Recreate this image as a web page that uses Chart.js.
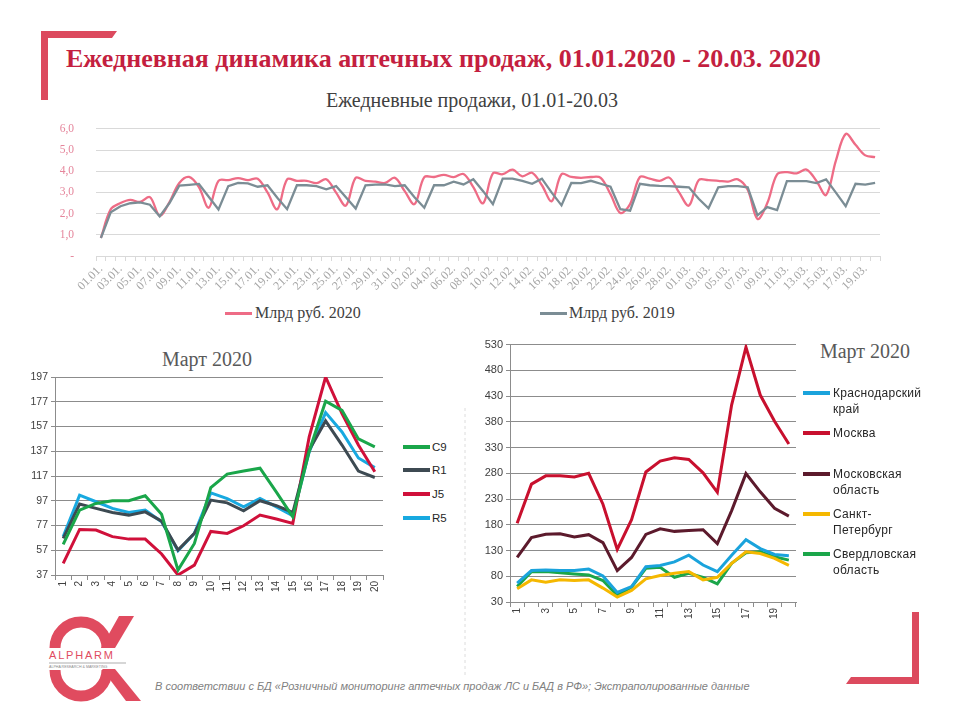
<!DOCTYPE html>
<html><head><meta charset="utf-8">
<script src="https://cdn.jsdelivr.net/npm/chart.js@4.4.1/dist/chart.umd.min.js"></script>
<style>
body{margin:0;width:960px;height:720px;background:#fff;position:relative;overflow:hidden;font-family:'Liberation Sans',Arial,sans-serif}
.abs{position:absolute;white-space:nowrap}
canvas{position:absolute}
.title{left:66px;top:46px;font:bold 26px 'Liberation Serif',serif;color:#c41f40;line-height:26px}
.sub{left:272px;width:400px;text-align:center;top:90px;font:20px 'Liberation Serif',serif;color:#404040;line-height:20px}
.leg16{font:16px 'Liberation Serif',serif;color:#404040;line-height:16px}
.mtitle{font:20px 'Liberation Serif',serif;color:#595959;line-height:20px}
.lline{position:absolute;height:4px}
.ltxt{position:absolute;font:11.5px 'Liberation Sans',sans-serif;color:#262626;line-height:12px}
.rtxt{position:absolute;font:12px 'Liberation Sans',sans-serif;color:#262626;line-height:16px;letter-spacing:0.3px}
.foot{left:155px;top:680px;font:italic 11px 'Liberation Sans',sans-serif;color:#7f7f7f;line-height:12px}
</style></head><body>

<svg class="abs" style="left:0;top:0" width="960" height="720">
  <polygon points="41,31 117,31 112,38 48,38 48,100 41,100" fill="#dc4a5e"/>
  <polygon points="912,612 919,612 919,684 846,684 851,677 912,677" fill="#dc4a5e"/>
  <line x1="465" y1="408" x2="465" y2="675" stroke="#dcdcdc" stroke-width="1" stroke-dasharray="3,3"/>
  <path d="M55,648 A26,26 0 0 1 107,648" stroke="#e04b5f" stroke-width="11" fill="none"/>
  <polygon points="119,616 134,616 115,648 101,648" fill="#e04b5f"/>
  <path d="M55,670 A26,26 0 0 0 107,670" stroke="#e04b5f" stroke-width="11" fill="none"/>
  <polygon points="102,669 115,669 141,701 126,701" fill="#e04b5f"/>
  <text x="49" y="659" font-family="Liberation Sans" font-size="11" letter-spacing="1.8" fill="#e04b5f">ALPHARM</text>
  <line x1="49" y1="663" x2="126" y2="663" stroke="#c8c8c8" stroke-width="1.5"/>
  <text x="49" y="668" font-family="Liberation Sans" font-size="3.6" fill="#8a8a8a">ALPHA RESEARCH &amp; MARKETING</text>
</svg>

<div class="abs title">Ежедневная динамика аптечных продаж, 01.01.2020 - 20.03. 2020</div>
<div class="abs sub">Ежедневные продажи, 01.01-20.03</div>

<canvas id="top" width="900" height="200" style="left:0;top:100px"></canvas>
<div class="abs" style="left:225px;top:312px;width:27px;height:2.5px;background:#ee6c86"></div>
<div class="abs leg16" style="left:255px;top:305px">Млрд руб. 2020</div>
<div class="abs" style="left:540px;top:312px;width:27px;height:2.5px;background:#7b8d95"></div>
<div class="abs leg16" style="left:569px;top:305px">Млрд руб. 2019</div>

<div class="abs mtitle" style="left:107px;width:200px;text-align:center;top:349px">Март 2020</div>
<canvas id="left" width="400" height="240" style="left:0;top:366px"></canvas>
<div id="leftLegend"></div>

<div class="abs mtitle" style="left:765px;width:200px;text-align:center;top:341px">Март 2020</div>
<canvas id="right" width="345" height="300" style="left:465px;top:335px"></canvas>
<div id="rightLegend"></div>

<div class="abs foot">В соответствии с БД «Розничный мониторинг аптечных продаж ЛС и БАД в РФ»; Экстраполированные данные</div>

<script>
// ---------- DATA ----------
const dayLabels = [
"01.01.","02.01.","03.01.","04.01.","05.01.","06.01.","07.01.","08.01.","09.01.","10.01.",
"11.01.","12.01.","13.01.","14.01.","15.01.","16.01.","17.01.","18.01.","19.01.","20.01.",
"21.01.","22.01.","23.01.","24.01.","25.01.","26.01.","27.01.","28.01.","29.01.","30.01.",
"31.01.","01.02.","02.02.","03.02.","04.02.","05.02.","06.02.","07.02.","08.02.","09.02.",
"10.02.","11.02.","12.02.","13.02.","14.02.","15.02.","16.02.","17.02.","18.02.","19.02.",
"20.02.","21.02.","22.02.","23.02.","24.02.","25.02.","26.02.","27.02.","28.02.","29.02.",
"01.03.","02.03.","03.03.","04.03.","05.03.","06.03.","07.03.","08.03.","09.03.","10.03.",
"11.03.","12.03.","13.03.","14.03.","15.03.","16.03.","17.03.","18.03.","19.03.","20.03."];

const sales2020 = [
0.85,2.2,2.5,2.65,2.55,2.78,1.9,2.55,3.45,3.73,
3.25,2.28,3.55,3.58,3.68,3.58,3.65,3.0,2.21,3.62,
3.55,3.55,3.44,3.62,2.99,2.38,3.69,3.55,3.51,3.45,
3.69,3.06,2.45,3.72,3.73,3.83,3.72,3.87,3.25,2.49,
3.9,3.86,4.08,3.76,3.93,3.34,2.59,3.86,3.73,3.69,
3.73,3.69,2.92,2.03,2.45,3.73,3.65,3.55,3.7,3.0,
2.38,3.58,3.58,3.55,3.51,3.62,3.13,1.75,2.5,3.85,
3.96,3.9,4.08,3.55,2.88,4.5,5.76,5.25,4.75,4.67];

const sales2019 = [
0.85,2.06,2.35,2.49,2.53,2.42,1.87,2.5,3.32,3.36,
3.4,2.8,2.2,3.3,3.45,3.43,3.27,3.34,2.75,2.21,
3.34,3.34,3.3,3.15,3.3,2.77,2.24,3.34,3.37,3.38,
3.3,3.34,2.77,2.28,3.34,3.34,3.51,3.38,3.62,3.06,
2.45,3.65,3.65,3.55,3.41,3.65,2.99,2.39,3.45,3.44,
3.55,3.41,3.27,2.21,2.14,3.41,3.34,3.31,3.3,3.27,
3.24,2.7,2.25,3.24,3.3,3.3,3.24,1.92,2.31,2.17,
3.53,3.53,3.53,3.44,3.62,2.99,2.35,3.41,3.37,3.45];

const topTicks = [0,1,2,3,4,5,6];

const marchDays = ["1","2","3","4","5","6","7","8","9","10","11","12","13","14","15","16","17","18","19","20"];

const c9 = [61.7,89.4,94.8,97,97,101,86,41,62.5,107.7,118.5,121,123.3,104,84,137,177.4,170,147,140.5];
const r1 = [66.6,94.3,90.8,87.5,85.4,88,80.5,57.2,70.6,97.5,95.3,88.9,97,93,87.5,138,161.5,142,121,115.8];
const j5 = [46.4,73.8,73.3,68,66,66,54,37,45,72.2,70.6,76.8,85.4,82.2,78.7,148.6,197,167.4,142,120.4];
const r5 = [68,101.5,96.2,90.8,87.5,89.4,80,56.6,70.6,103.4,98.8,92,98.8,92,84.8,136.5,168.2,152.6,131.6,123.8];
const leftTicks = [37,57,77,97,117,137,157,177,197];

const krasnodar = [66.5,91,92,91,91,94,80.6,48.6,60,98.6,101,108,121,101.8,89,121,151,133.8,122.3,119.7];
const moscow = [183,259,275,275,273,280,220,132,190,282.6,303.7,310,307,281,243,413,525,432,381,337];
const moscowObl = [116.5,155,161.4,162.7,156.3,160.8,145.4,91,116.5,161.4,172.3,167.2,169,170.4,143.5,207.6,279.4,244,212,196.7];
const spb = [55.6,73,68.5,73,71.7,73,57,39.6,52.4,75,81.3,85.8,89,73,78,105,127.4,124.2,114.6,101];
const sverdlovsk = [60,89,89,87,84.5,82.6,71.7,42.8,58.8,95.4,97.3,78,85.8,78,65.3,105,125.5,127.4,117.8,111.4];
const rightTicks = [30,80,130,180,230,280,330,380,430,480,530];

// ---------- HELPERS ----------
function ds(label, data, color, width, tension){
  return {label, data, borderColor: color, backgroundColor: color, borderWidth: width,
          pointRadius: 0, pointHoverRadius: 0, tension: tension, fill: false};
}
const base = {responsive:false, animation:false, events:[],
  plugins:{legend:{display:false}, tooltip:{enabled:false}}};

// ---------- TOP CHART ----------
new Chart(document.getElementById('top'), {
  type:'line',
  data:{labels: dayLabels, datasets:[
    ds('Млрд руб. 2019', sales2019, '#7b8d95', 2.3, 0),
    ds('Млрд руб. 2020', sales2020, '#ee6c86', 2.3, 0.35)
  ]},
  options:Object.assign({}, base, {
    layout:{padding:{top:13,right:20,left:0,bottom:0}},
    scales:{
      x:{offset:true,
         grid:{offset:true, drawOnChartArea:false, drawTicks:true, tickLength:5, color:'#d9d9d9'},
         border:{color:'#d9d9d9'},
         ticks:{autoSkip:false, minRotation:45, maxRotation:45, padding:1, color:'#a6a6a6',
                font:{family:'Liberation Serif', size:12},
                callback:(v,i)=> i%2===0 ? dayLabels[i] : ''},
         afterFit:s=>{s.height=44;}},
      y:{min:0, max:6,
         afterBuildTicks:s=>{s.ticks = topTicks.map(v=>({value:v}));},
         ticks:{padding:22, color:'#e5859b', font:{family:'Liberation Serif', size:11.5},
                callback:v=> v===0 ? '-' : v.toFixed(1).replace('.',',')},
         grid:{color:'#d9d9d9', drawTicks:false},
         border:{display:false},
         afterFit:s=>{s.width=96;}}
    }
  })
});

// ---------- BOTTOM LEFT ----------
const leftSeries = [
  {name:'C9', data:c9, color:'#1aa64a'},
  {name:'R1', data:r1, color:'#3d4a52'},
  {name:'J5', data:j5, color:'#d0103a'},
  {name:'R5', data:r5, color:'#18a9e0'}
];
new Chart(document.getElementById('left'), {
  type:'line',
  data:{labels: marchDays, datasets: leftSeries.map(s=>ds(s.name, s.data, s.color, 3, 0))},
  options:Object.assign({}, base, {
    layout:{padding:{top:11,right:17,left:0,bottom:0}},
    scales:{
      x:{offset:true,
         grid:{offset:true, drawOnChartArea:false, tickLength:5, color:'#8c8c8c'},
         border:{color:'#8c8c8c'},
         ticks:{autoSkip:false, minRotation:90, maxRotation:90, padding:1, color:'#404040',
                font:{family:'Liberation Sans', size:10}},
         afterFit:s=>{s.height=31;}},
      y:{min:37, max:197,
         afterBuildTicks:s=>{s.ticks = leftTicks.map(v=>({value:v}));},
         ticks:{padding:3, color:'#404040', font:{family:'Liberation Sans', size:10.5}},
         grid:{color:'#8c8c8c', tickLength:4},
         border:{color:'#8c8c8c'},
         afterFit:s=>{s.width=55;}}
    }
  })
});
const leftYs = [447,470,494,518];
let lh = '';
leftSeries.forEach((s,i)=>{
  lh += `<div class="lline" style="left:403px;top:${leftYs[i]-2}px;width:27px;background:${s.color}"></div>`;
  lh += `<div class="ltxt" style="left:432px;top:${leftYs[i]-6}px">${s.name}</div>`;
});
document.getElementById('leftLegend').innerHTML = lh;

// ---------- BOTTOM RIGHT ----------
const rightSeries = [
  {name:'Краснодарский<br>край', data:krasnodar, color:'#1aa3dc'},
  {name:'Москва', data:moscow, color:'#c8102e'},
  {name:'Московская<br>область', data:moscowObl, color:'#5c1a2c'},
  {name:'Санкт-<br>Петербург', data:spb, color:'#f5b800'},
  {name:'Свердловская<br>область', data:sverdlovsk, color:'#1ba64a'}
];
new Chart(document.getElementById('right'), {
  type:'line',
  data:{labels: marchDays, datasets: rightSeries.map(s=>ds(s.name.replace('<br>',' '), s.data, s.color, 3, 0))},
  options:Object.assign({}, base, {
    layout:{padding:{top:7,right:14,left:0,bottom:0}},
    scales:{
      x:{offset:true,
         grid:{offset:true, drawOnChartArea:false, tickLength:5, color:'#8c8c8c'},
         border:{color:'#8c8c8c'},
         ticks:{autoSkip:false, minRotation:90, maxRotation:90, padding:1, color:'#404040',
                font:{family:'Liberation Sans', size:10},
                callback:(v,i)=> i%2===0 ? marchDays[i] : ''},
         afterFit:s=>{s.height=33;}},
      y:{min:30, max:530,
         afterBuildTicks:s=>{s.ticks = rightTicks.map(v=>({value:v}));},
         ticks:{padding:3, color:'#404040', font:{family:'Liberation Sans', size:11}},
         grid:{color:'#8c8c8c', tickLength:4},
         border:{color:'#8c8c8c'},
         afterFit:s=>{s.width=45;}}
    }
  })
});
const rightYs = [393,433,474,514,554];
let rh = '';
rightSeries.forEach((s,i)=>{
  rh += `<div class="lline" style="left:803px;top:${rightYs[i]-2}px;width:27px;background:${s.color}"></div>`;
  rh += `<div class="rtxt" style="left:833px;top:${rightYs[i]-8}px">${s.name}</div>`;
});
document.getElementById('rightLegend').innerHTML = rh;
</script>
</body></html>
